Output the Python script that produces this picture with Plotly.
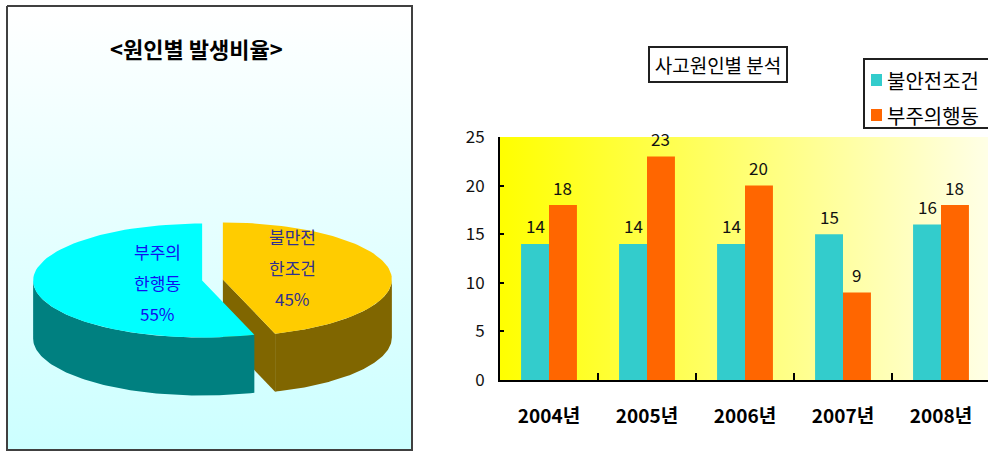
import math
import plotly.graph_objects as go

# ---- bar chart data ----
years = ["2004년", "2005년", "2006년", "2007년", "2008년"]
unsafe_conditions = [14, 14, 14, 15, 16]
careless_acts = [18, 23, 20, 9, 18]
bar_names = ["불안전조건", "부주의행동"]
bar_colors = ["#33CCCC", "#FF6600"]
y_ticks = [0, 5, 10, 15, 20, 25]
bar_title = "사고원인별 분석"

# ---- pie chart data ----
pie_title = "<원인별 발생비율>"
pie_labels = [["부주의", "한행동"], ["불만전", "한조건"]]
pie_values = [55, 45]
pie_top_colors = ["#00FFFF", "#FFCC00"]
pie_side_colors = ["#008080", "#806600"]
pie_text_colors = ["#1010F0", "#303090"]

W, H = 988, 451
FONT = "Noto Sans CJK KR"

fig = go.Figure()


def poly(xs, ys, color, line_color=None, line_width=0, gradient=None):
    xs = list(xs) + [xs[0]]
    ys = list(ys) + [ys[0]]
    tr = dict(x=xs, y=ys, mode="lines", fill="toself", hoverinfo="skip",
              showlegend=False, xaxis="x", yaxis="y",
              line=dict(color=line_color or color, width=line_width))
    if gradient is not None:
        tr["fillgradient"] = gradient
    else:
        tr["fillcolor"] = color
    fig.add_trace(go.Scatter(**tr))


# ---- left panel: framed box with vertical gradient ----
box_l, box_t, box_r, box_b = 7, 6, 412, 450
poly([box_l, box_r, box_r, box_l], [box_t, box_t, box_b, box_b], None,
     line_color="#404040", line_width=2,
     gradient=dict(type="vertical", start=box_t, stop=box_b,
                   colorscale=[[0, "#FFFFFF"], [1, "#CCFFFF"]]))

# ---- right panel: plot-area position in pixels ----
plot_l, plot_t, plot_r, plot_b = 500, 137, W, 380
cat_px = 98.0
poly([plot_l, plot_r, plot_r, plot_l], [plot_t, plot_t, plot_b, plot_b], None,
     gradient=dict(type="horizontal", start=plot_l, stop=plot_r,
                   colorscale=[[0, "#FFFF00"], [1, "#FFFFE6"]]))

# ---- exploded 3-D pie ----
cx, cy = 212.5, 280.0
rx, ry = 169.0, 57.0
depth = 58.0
explode = 10.5
label_radius = [0.27, 0.42]
label_dy = [0, -8]
line_gap = 31

total = sum(pie_values)
angles = [0.0]
for v in pie_values:
    angles.append(angles[-1] + 360.0 * v / total)


def rim(theta, ox, oy, dz=0.0):
    t = math.radians(theta)
    return cx + ox - rx * math.sin(t), cy + oy - ry * math.cos(t) + dz


def arc(a0, a1, ox, oy, dz=0.0, n=80):
    pts = [rim(a0 + (a1 - a0) * i / n, ox, oy, dz) for i in range(n + 1)]
    return [p[0] for p in pts], [p[1] for p in pts]


slices = []
for i, v in enumerate(pie_values):
    a0, a1 = angles[i], angles[i + 1]
    mid = math.radians((a0 + a1) / 2)
    ox = -explode * math.sin(mid)
    oy = -explode * math.cos(mid) * ry / rx
    slices.append((i, a0, a1, ox, oy, mid))

# the slice drawn last sits in front
for i, a0, a1, ox, oy, mid in sorted(slices, key=lambda s: -s[3]):
    ax, ay = cx + ox, cy + oy
    # radial cut face at the start edge when it faces the viewer
    if math.sin(math.radians(a0)) < -1e-6:
        px, py = rim(a0, ox, oy)
        poly([ax, px, px, ax], [ay, py, py + depth, ay + depth], pie_side_colors[i])
    if math.sin(math.radians(a1)) > 1e-6:
        px, py = rim(a1, ox, oy)
        poly([ax, px, px, ax], [ay, py, py + depth, ay + depth], pie_side_colors[i])
    # outer wall on the front half of the rim
    w0, w1 = max(a0, 90.0), min(a1, 270.0)
    if w1 > w0:
        tx, ty = arc(w0, w1, ox, oy)
        bx, by = arc(w0, w1, ox, oy, depth)
        poly(tx + bx[::-1], ty + by[::-1], pie_side_colors[i])
    # top face
    tx, ty = arc(a0, a1, ox, oy)
    poly([ax] + tx, [ay] + ty, pie_top_colors[i])

annotations = []
for i, a0, a1, ox, oy, mid in slices:
    lx = cx + ox - rx * math.sin(mid) * label_radius[i]
    ly = cy + oy - ry * math.cos(mid) * label_radius[i] + label_dy[i]
    lines = pie_labels[i] + [f"{pie_values[i] / total * 100:.0f}%"]
    for k, txt in enumerate(lines):
        annotations.append(dict(
            x=lx, y=ly + (k - (len(lines) - 1) / 2) * line_gap, xref="x", yref="y",
            text=txt, showarrow=False, xanchor="center", yanchor="middle",
            font=dict(family=FONT, size=17, color=pie_text_colors[i])))

annotations.append(dict(
    x=196, y=48, xref="x", yref="y", text=pie_title,
    showarrow=False, xanchor="center", yanchor="middle",
    font=dict(family=FONT, size=22, color="#000000", weight=700)))

# ---- grouped bars ----
bargap = 0.43
for name, vals, col in zip(bar_names, [unsafe_conditions, careless_acts], bar_colors):
    fig.add_trace(go.Bar(x=years, y=vals, name=name, marker=dict(color=col, line_width=0),
                         xaxis="x2", yaxis="y2", showlegend=False, hoverinfo="skip"))

bar_px = (1 - bargap) * cat_px / 2
for j, vals in enumerate([unsafe_conditions, careless_acts]):
    shift = (j - 0.5) * bar_px
    for yr, v in zip(years, vals):
        annotations.append(dict(
            x=yr, y=v, xref="x2", yref="y2", text=str(v), showarrow=False,
            xshift=shift, yshift=18, xanchor="center", yanchor="middle",
            font=dict(family=FONT, size=17, color="#111111")))

# chart title box
annotations.append(dict(
    x=718, y=64.5, xref="x", yref="y", text=bar_title, showarrow=False,
    xanchor="center", yanchor="middle", width=134, height=31, borderpad=1,
    bordercolor="#202020", borderwidth=2, bgcolor="#FFFFFF",
    font=dict(family=FONT, size=19, color="#000000")))

# legend box
shapes = [dict(type="rect", xref="x", yref="y", x0=864, x1=996, y0=59, y1=128,
               line=dict(color="#202020", width=2), fillcolor="#FFFFFF")]
for j, (name, col) in enumerate(zip(bar_names, bar_colors)):
    yc = 80 + 35 * j
    shapes.append(dict(type="rect", xref="x", yref="y", x0=871, x1=882,
                       y0=yc - 6, y1=yc + 6, line_width=0, fillcolor=col))
    annotations.append(dict(
        x=885, y=yc, xref="x", yref="y", text=name, showarrow=False,
        xanchor="left", yanchor="middle",
        font=dict(family=FONT, size=20, color="#000000")))

fig.update_layout(
    width=W, height=H,
    margin=dict(l=0, r=0, t=0, b=0, pad=0, autoexpand=False),
    paper_bgcolor="#FFFFFF", plot_bgcolor="rgba(0,0,0,0)",
    barmode="group", bargap=bargap, bargroupgap=0,
    xaxis=dict(domain=[0, 1], range=[0, W], visible=False, fixedrange=True,
               automargin=False),
    yaxis=dict(domain=[0, 1], range=[H, 0], visible=False, fixedrange=True,
               automargin=False),
    xaxis2=dict(domain=[plot_l / W, plot_r / W], anchor="y2", type="category",
                range=[-0.5, -0.5 + (plot_r - plot_l) / cat_px], automargin=False,
                showline=True, linecolor="#000000", linewidth=2,
                ticks="inside", tickson="boundaries", ticklen=7, tickwidth=2,
                tickcolor="#000000", showgrid=False, ticklabelstandoff=18,
                tickfont=dict(family=FONT, size=19, color="#000000", weight=700)),
    yaxis2=dict(domain=[1 - plot_b / H, 1 - plot_t / H], anchor="x2",
                range=[0, 25], tickvals=y_ticks, automargin=False,
                showline=True, linecolor="#000000", linewidth=2,
                ticks="inside", ticklen=4, tickwidth=2, tickcolor="#000000",
                showgrid=False, zeroline=False, ticklabelstandoff=10,
                tickfont=dict(family=FONT, size=17, color="#111111")),
    annotations=annotations,
    shapes=shapes,
)

fig.write_html("out.html")
